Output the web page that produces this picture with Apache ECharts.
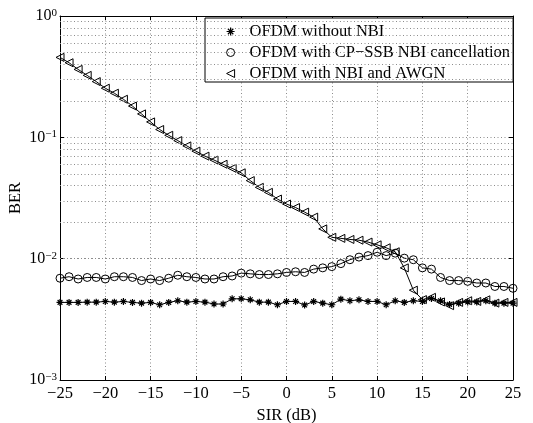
<!DOCTYPE html>
<html><head><meta charset="utf-8">
<script src="https://cdn.jsdelivr.net/npm/echarts@6/dist/echarts.min.js"></script>
<style>html,body{margin:0;padding:0;background:#fff}#c{width:533px;height:423px}</style>
</head><body><div id="c"></div>
<script>
var sir = [-25,-24,-23,-22,-21,-20,-19,-18,-17,-16,-15,-14,-13,-12,-11,-10,-9,-8,-7,-6,-5,-4,-3,-2,-1,0,1,2,3,4,5,6,7,8,9,10,11,12,13,14,15,16,17,18,19,20,21,22,23,24,25];
var berNoNBI = [0.00436,0.00436,0.00436,0.00438,0.00438,0.00444,0.00438,0.00444,0.00436,0.0043,0.00436,0.00417,0.00436,0.0045,0.00438,0.00444,0.00438,0.00423,0.00423,0.00467,0.00467,0.00458,0.00438,0.00438,0.00417,0.00444,0.00444,0.00415,0.00444,0.0043,0.00417,0.00464,0.0045,0.00458,0.00444,0.00444,0.00417,0.0045,0.00436,0.0045,0.00444,0.0047,0.0045,0.0042,0.0043,0.0044,0.0044,0.0045,0.0043,0.0043,0.0043];
var berCPSSB = [0.0069,0.0071,0.0068,0.0070,0.0070,0.0068,0.0071,0.0071,0.0070,0.0066,0.0068,0.0066,0.0069,0.0073,0.0071,0.0070,0.0068,0.0068,0.0071,0.0072,0.0076,0.0075,0.0074,0.0074,0.0075,0.0077,0.0078,0.0077,0.0082,0.0084,0.0086,0.0091,0.0098,0.0103,0.0106,0.0113,0.0106,0.0111,0.0101,0.0098,0.0084,0.0082,0.0070,0.0066,0.0066,0.0065,0.0063,0.0063,0.0059,0.0059,0.0057];
var berNBI = [0.456,0.412,0.363,0.324,0.288,0.254,0.231,0.206,0.181,0.156,0.134,0.116,0.104,0.094,0.085,0.077,0.070,0.065,0.060,0.0555,0.051,0.044,0.0387,0.0352,0.031,0.0282,0.0264,0.0242,0.022,0.0176,0.015,0.0147,0.0144,0.0142,0.0137,0.013,0.0123,0.0114,0.0084,0.0055,0.0046,0.0048,0.0044,0.0041,0.00436,0.0045,0.00444,0.00458,0.0043,0.00436,0.00436];
var seriesNames = ['OFDM without NBI','OFDM with CP\u2212SSB NBI cancellation','OFDM with NBI and AWGN'];
var minorGrid = [0.002,0.003,0.004,0.005,0.006,0.007,0.008,0.009,0.02,0.03,0.04,0.05,0.06,0.07,0.08,0.09,0.2,0.3,0.4,0.5,0.6,0.7,0.8,0.9];

var FONT = "'Liberation Serif','Times New Roman',serif";
var starPath = 'path://M0,5L10,5M5,0L5,10M1.6,1.6L8.4,8.4M8.4,1.6L1.6,8.4';
var triPath = 'path://M0,5L10,0L10,10Z';
var circPath = 'circle';
function pairs(ys){ return sir.map(function(x,i){ return [x, ys[i]]; }); }
var gridDot = {color:'#8c8c8c', width:1, type:[1,2.5]};

var chart = echarts.init(document.getElementById('c'), null, {renderer:'canvas'});
function yLab(v){
  var e = Math.round(Math.log(v)/Math.LN10);
  return '{b|10}{s|' + String(e).replace('-', '\u2212') + '}';
}
var option = {
  animation:false,
  backgroundColor:'#fff',
  textStyle:{fontFamily:FONT},
  grid:{left:60, right:20, top:16, bottom:43, containLabel:false, outerBoundsMode:'none'},
  legend:{
    orient:'vertical', left:205, top:18,
    padding:[5,3,0,21],
    itemWidth:28, itemHeight:8, itemGap:4,
    backgroundColor:'#fff', borderColor:'#000', borderWidth:1, borderRadius:0,
    textStyle:{fontFamily:FONT, fontSize:16.5, color:'#000', lineHeight:16},
    data:[
      {name:seriesNames[0], icon:starPath, itemStyle:{color:'rgba(0,0,0,0)', borderColor:'#000', borderWidth:1.2}},
      {name:seriesNames[1], icon:'circle', itemStyle:{color:'rgba(0,0,0,0)', borderColor:'#000', borderWidth:1}},
      {name:seriesNames[2], icon:triPath, itemStyle:{color:'rgba(0,0,0,0)', borderColor:'#000', borderWidth:1}}
    ]
  },
  xAxis:[{
    type:'value', min:-25, max:25, interval:5, position:'bottom',
    name:'SIR (dB)', nameLocation:'middle', nameGap:22,
    nameTextStyle:{fontFamily:FONT, fontSize:16.5, color:'#000'},
    axisLine:{show:true, onZero:false, lineStyle:{color:'#000', width:1}},
    axisTick:{show:true, inside:true, length:4, lineStyle:{color:'#000'}},
    axisLabel:{fontFamily:FONT, fontSize:16.5, color:'#000', margin:5,
      formatter:function(v){ return String(v).replace('-', '\u2212'); }},
    splitLine:{show:true, lineStyle:gridDot}
  },{
    type:'value', min:-25, max:25, interval:5, position:'top',
    axisLine:{show:true, onZero:false, lineStyle:{color:'#000', width:1}},
    axisTick:{show:true, inside:true, length:4, lineStyle:{color:'#000'}},
    axisLabel:{show:false}, splitLine:{show:false}
  }],
  yAxis:[{
    type:'log', logBase:10, min:0.001, max:1, position:'left',
    name:'BER', nameLocation:'middle', nameGap:36, nameRotate:90, nameMoveOverlap:false,
    nameTextStyle:{fontFamily:FONT, fontSize:16.5, color:'#000'},
    axisLine:{show:true, onZero:false, lineStyle:{color:'#000', width:1}},
    axisTick:{show:true, inside:true, length:4, lineStyle:{color:'#000'}},
    axisLabel:{margin:3, formatter:yLab,
      rich:{b:{fontFamily:FONT, fontSize:16, color:'#000', lineHeight:17},
            s:{fontFamily:FONT, fontSize:11, color:'#000', verticalAlign:'top', lineHeight:11, padding:[0,0,6,0]}}},
    splitLine:{show:true, lineStyle:gridDot}
  },{
    type:'log', logBase:10, min:0.001, max:1, position:'right',
    axisLine:{show:true, onZero:false, lineStyle:{color:'#000', width:1}},
    axisTick:{show:true, inside:true, length:4, lineStyle:{color:'#000'}},
    axisLabel:{show:false}, splitLine:{show:false}
  }],
  series:[
    {name:seriesNames[0], type:'line', data:pairs(berNoNBI), xAxisIndex:0, yAxisIndex:0,
     symbol:starPath, symbolSize:7, showAllSymbol:true,
     lineStyle:{color:'#000', width:1}, itemStyle:{color:'rgba(0,0,0,0)', borderColor:'#000', borderWidth:1.2},
     markLine:{silent:true, symbol:['none','none'], label:{show:false}, lineStyle:gridDot, animation:false,
       data: minorGrid.map(function(v){ return {yAxis:v}; })}, z:3},
    {name:seriesNames[1], type:'line', data:pairs(berCPSSB), xAxisIndex:0, yAxisIndex:0,
     symbol:circPath, symbolSize:8, showAllSymbol:true,
     lineStyle:{color:'#000', width:1}, itemStyle:{color:'rgba(0,0,0,0)', borderColor:'#000', borderWidth:1}, z:3},
    {name:seriesNames[2], type:'line', data:pairs(berNBI), xAxisIndex:0, yAxisIndex:0,
     symbol:triPath, symbolSize:8, showAllSymbol:true,
     lineStyle:{color:'#000', width:1}, itemStyle:{color:'rgba(0,0,0,0)', borderColor:'#000', borderWidth:1}, z:3}
  ]
};
chart.setOption(option);
</script></body></html>
